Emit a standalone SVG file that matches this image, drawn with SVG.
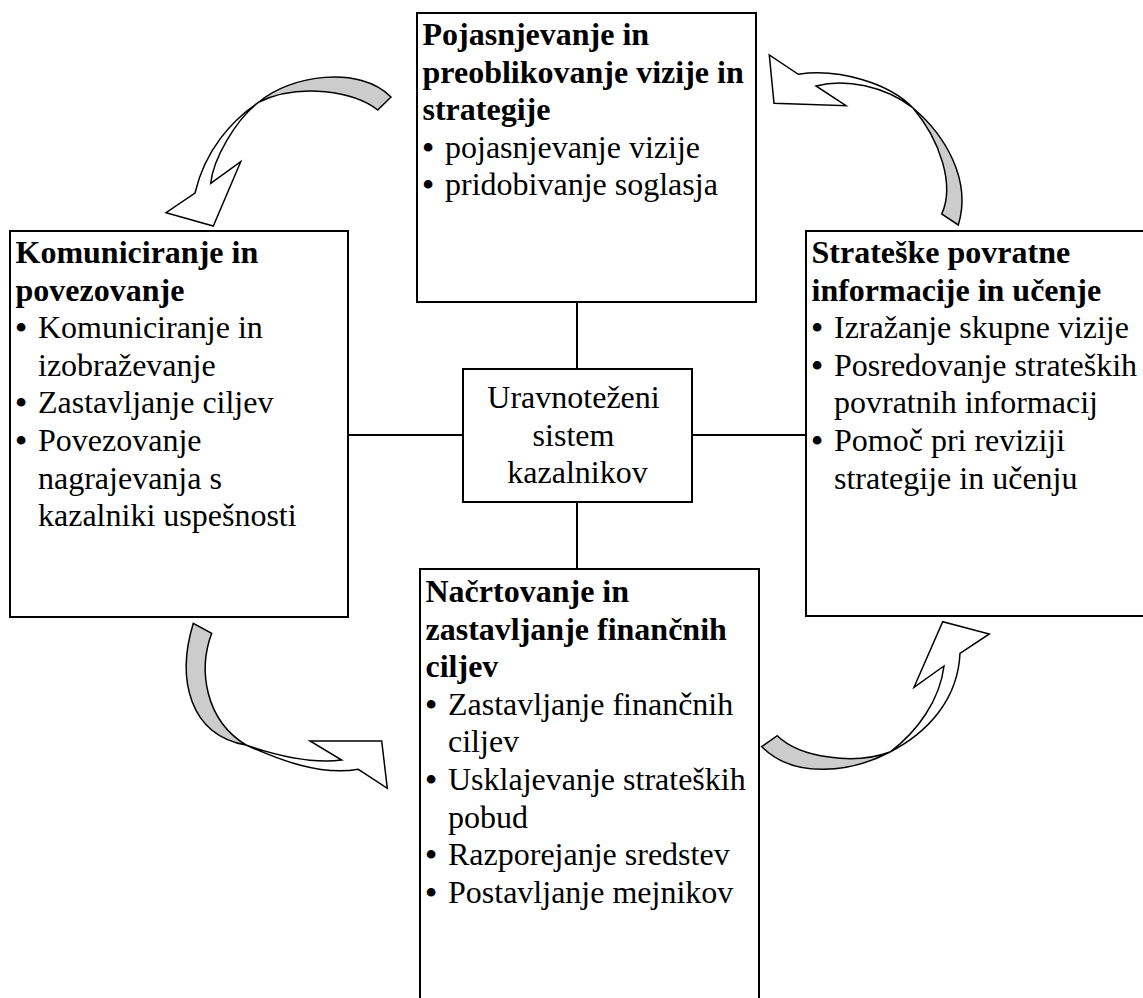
<svg xmlns="http://www.w3.org/2000/svg" width="1143" height="998" viewBox="0 0 1143 998">
  <style>
    .box { fill: #ffffff; stroke: #000000; stroke-width: 2; }
    .link { stroke: #000000; stroke-width: 2; fill: none; }
    .band { fill: #ffffff; stroke: #000000; stroke-width: 1.5; stroke-linejoin: miter; }
    .back { fill: #cccccc; stroke: #000000; stroke-width: 1.5; stroke-linejoin: miter; }
    text { font-family: "Liberation Serif", "Times New Roman", serif; font-size: 32px; fill: #000000; }
    .title { font-weight: bold; }
    .center { text-anchor: middle; }
    .dot { font-weight: bold; }
  </style>

  <rect width="1143" height="998" fill="#ffffff"/>

  <!-- lines joining the centre box to the four outer boxes -->
  <g id="connectors">
    <line class="link" x1="577" y1="302" x2="577" y2="369"/>
    <line class="link" x1="577" y1="502" x2="577" y2="569"/>
    <line class="link" x1="348" y1="435" x2="463" y2="435"/>
    <line class="link" x1="692" y1="435" x2="806" y2="435"/>
  </g>

  <!-- curved cycle arrows -->
  <g id="cycle-arrows">
    <g id="arrow-top-left">
      <path class="band" d="M259,102 C232,120 205,150 195,193 L166,212.7 L213.3,226 L240.7,161.7 L210.7,183.3 C213,160 235,120 259,102 Z"/>
      <path class="back" d="M259,102 C290,75 360,65 391,97 L377.7,110 C355,92 300,82 259,102 Z"/>
    </g>
    <g id="arrow-top-right">
      <path class="band" d="M913,108 C890,84 840,68 798.3,74.3 L769.3,55 L774,103.3 L846,105.7 L816,86 C845,78 885,86 913,108 Z"/>
      <path class="back" d="M913,108 C945,135 972,180 958.3,225 L941.7,214 C955,185 940,140 913,108 Z"/>
    </g>
    <g id="arrow-bottom-left">
      <path class="back" d="M246,745 C190,735 176,680 193.3,623.3 L211.7,633.3 C198,670 205,720 246,745 Z"/>
      <path class="band" d="M246,745 C280,760 320,776 358.3,769.3 L387.3,788.3 L381.7,741 L310,741 L341.7,760 C310,764 275,755 246,745 Z"/>
    </g>
    <g id="arrow-bottom-right">
      <path class="back" d="M890,752 C852,772 795,780 761.7,746.7 L777.3,735.7 C800,758 855,765 890,752 Z"/>
      <path class="band" d="M890,752 C927,733 958,700 960,653.3 L989.3,634 L942.7,621.7 L914,687.3 L944,666 C940,700 917,732 890,752 Z"/>
    </g>
  </g>

  <g id="node-vision">
    <rect class="box" x="417" y="13" width="339" height="289"/>
    <text class="title">
      <tspan x="422.5" y="45">Pojasnjevanje in</tspan>
      <tspan x="422.5" y="82.6">preoblikovanje vizije in</tspan>
      <tspan x="422.5" y="120.2">strategije</tspan>
    </text>
    <text>
      <tspan class="dot" x="422.5" y="157.8">•</tspan><tspan x="445" y="157.8">pojasnjevanje vizije</tspan>
      <tspan class="dot" x="422.5" y="195.4">•</tspan><tspan x="445" y="195.4">pridobivanje soglasja</tspan>
    </text>
  </g>

  <g id="node-communication">
    <rect class="box" x="10" y="231" width="338" height="386"/>
    <text class="title">
      <tspan x="15.5" y="263">Komuniciranje in</tspan>
      <tspan x="15.5" y="300.6">povezovanje</tspan>
    </text>
    <text>
      <tspan class="dot" x="15.5" y="338.2">•</tspan><tspan x="38" y="338.2">Komuniciranje in</tspan>
      <tspan x="38" y="375.8">izobraževanje</tspan>
      <tspan class="dot" x="15.5" y="413.4">•</tspan><tspan x="38" y="413.4">Zastavljanje ciljev</tspan>
      <tspan class="dot" x="15.5" y="451">•</tspan><tspan x="38" y="451">Povezovanje</tspan>
      <tspan x="38" y="488.6">nagrajevanja s</tspan>
      <tspan x="38" y="526.2">kazalniki uspešnosti</tspan>
    </text>
  </g>

  <g id="node-feedback">
    <rect class="box" x="806" y="231" width="346" height="385"/>
    <text class="title">
      <tspan x="811.5" y="263">Strateške povratne</tspan>
      <tspan x="811.5" y="300.6">informacije in učenje</tspan>
    </text>
    <text>
      <tspan class="dot" x="811.5" y="338.2">•</tspan><tspan x="834" y="338.2">Izražanje skupne vizije</tspan>
      <tspan class="dot" x="811.5" y="375.8">•</tspan><tspan x="834" y="375.8">Posredovanje strateških</tspan>
      <tspan x="834" y="413.4">povratnih informacij</tspan>
      <tspan class="dot" x="811.5" y="451">•</tspan><tspan x="834" y="451">Pomoč pri reviziji</tspan>
      <tspan x="834" y="488.6">strategije in učenju</tspan>
    </text>
  </g>

  <g id="node-planning">
    <rect class="box" x="420" y="569" width="339" height="445"/>
    <text class="title">
      <tspan x="425.5" y="602">Načrtovanje in</tspan>
      <tspan x="425.5" y="639.6">zastavljanje finančnih</tspan>
      <tspan x="425.5" y="677.2">ciljev</tspan>
    </text>
    <text>
      <tspan class="dot" x="425.5" y="714.8">•</tspan><tspan x="448" y="714.8">Zastavljanje finančnih</tspan>
      <tspan x="448" y="752.4">ciljev</tspan>
      <tspan class="dot" x="425.5" y="790">•</tspan><tspan x="448" y="790">Usklajevanje strateških</tspan>
      <tspan x="448" y="827.6">pobud</tspan>
      <tspan class="dot" x="425.5" y="865.2">•</tspan><tspan x="448" y="865.2">Razporejanje sredstev</tspan>
      <tspan class="dot" x="425.5" y="902.8">•</tspan><tspan x="448" y="902.8">Postavljanje mejnikov</tspan>
    </text>
  </g>

  <g id="node-scorecard">
    <rect class="box" x="463" y="369" width="229" height="133"/>
    <text class="center">
      <tspan x="577.5" y="408">Uravnoteženi</tspan>
      <tspan x="577.5" y="445.6">sistem</tspan>
      <tspan x="577.5" y="483.2">kazalnikov</tspan>
    </text>
  </g>
</svg>
